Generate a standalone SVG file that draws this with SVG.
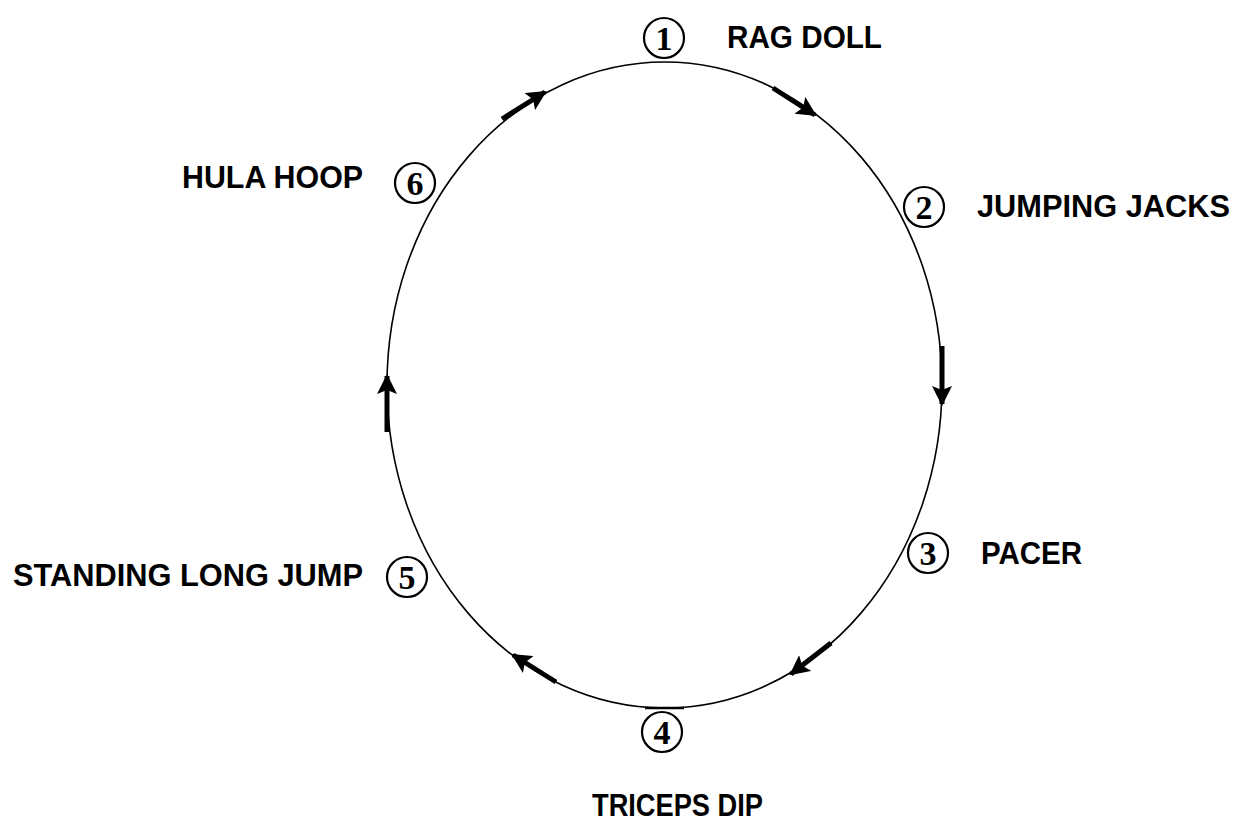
<svg xmlns="http://www.w3.org/2000/svg" width="1240" height="827" viewBox="0 0 1240 827">
<defs>
<style>
.lbl{font-family:"Liberation Sans",Arial,sans-serif;font-weight:bold;font-size:31px;fill:#000}
.num{font-family:"Liberation Serif","Times New Roman",serif;font-weight:bold;font-size:34px;fill:#000;text-anchor:middle}
.ring{fill:#fff;stroke:#000;stroke-width:2.2}
.loop{fill:none;stroke:#000;stroke-width:1.6}
.shaft{fill:none;stroke:#000;stroke-width:5;marker-end:url(#ah)}
</style>
<marker id="ah" viewBox="0 0 10 10" refX="9" refY="5" markerUnits="userSpaceOnUse" markerWidth="20" markerHeight="20" orient="auto">
<path d="M0,0 L10,5 L0,10 L2,5 Z" fill="#000"/>
</marker>
</defs>
<rect width="1240" height="827" fill="#fff"/>
<g id="connectors">
<ellipse class="loop" cx="664.5" cy="385" rx="277.5" ry="323"/>
<line x1="645" y1="708" x2="684" y2="708" stroke="#000" stroke-width="2.5"/>
<path class="shaft" d="M502,119 L545,92"/>
<path class="shaft" d="M773,88 L815,115"/>
<path class="shaft" d="M942,346 L942,404"/>
<path class="shaft" d="M831,643 L791,674"/>
<path class="shaft" d="M556,682 L513,655"/>
<path class="shaft" d="M387,432 L387,376"/>
</g>
<g id="node1">
<circle class="ring" cx="664" cy="38" r="20"/>
<text class="num" x="664" y="50">1</text>
<text class="lbl" x="727" y="48" textLength="155" lengthAdjust="spacingAndGlyphs">RAG DOLL</text>
</g>
<g id="node2">
<circle class="ring" cx="924" cy="207" r="20"/>
<text class="num" x="924" y="219">2</text>
<text class="lbl" x="977" y="217" textLength="253" lengthAdjust="spacingAndGlyphs">JUMPING JACKS</text>
</g>
<g id="node3">
<circle class="ring" cx="928" cy="553" r="20"/>
<text class="num" x="928" y="565">3</text>
<text class="lbl" x="981" y="564" textLength="101" lengthAdjust="spacingAndGlyphs">PACER</text>
</g>
<g id="node4">
<circle class="ring" cx="662" cy="732" r="20"/>
<text class="num" x="662" y="744">4</text>
<text class="lbl" x="592" y="816" textLength="171" lengthAdjust="spacingAndGlyphs">TRICEPS DIP</text>
</g>
<g id="node5">
<circle class="ring" cx="407" cy="577" r="20"/>
<text class="num" x="407" y="589">5</text>
<text class="lbl" x="13" y="586" textLength="350" lengthAdjust="spacingAndGlyphs">STANDING LONG JUMP</text>
</g>
<g id="node6">
<circle class="ring" cx="415" cy="183" r="20"/>
<text class="num" x="415" y="195">6</text>
<text class="lbl" x="182" y="188" textLength="181" lengthAdjust="spacingAndGlyphs">HULA HOOP</text>
</g>
</svg>
